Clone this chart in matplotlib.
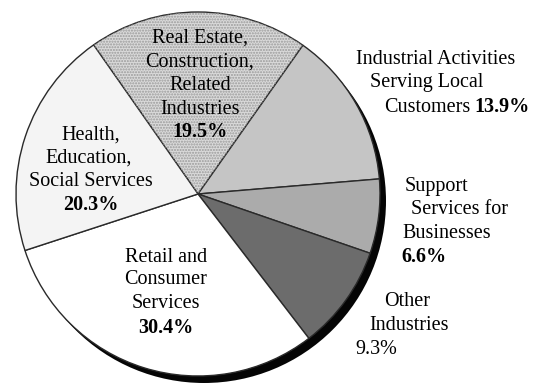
import matplotlib

matplotlib.use("Agg")

import matplotlib.pyplot as plt
from matplotlib.patches import Circle, Wedge

# sector shares, clockwise from the top-left
sectors = [
    "Real Estate, Construction, Related Industries",
    "Industrial Activities Serving Local Customers",
    "Support Services for Businesses",
    "Other Industries",
    "Retail and Consumer Services",
    "Health, Education, Social Services",
]
shares = [19.5, 13.9, 6.6, 9.3, 30.4, 20.3]
fills = ["#dadada", "#c5c5c5", "#ababab", "#6c6c6c", "#ffffff", "#f4f4f4"]

# label lines per sector; the share is drawn under / beside the last line
label_lines = [
    ["Real Estate,", "Construction,", "Related", "Industries"],
    ["Industrial Activities", "Serving Local", "Customers"],
    ["Support", "Services for", "Businesses"],
    ["Other", "Industries"],
    ["Retail and", "Consumer", "Services"],
    ["Health,", "Education,", "Social Services"],
]

W, H = 542, 385
CX, CY, R = 198, 191, 182

plt.rcParams["font.family"] = ["Liberation Serif", "DejaVu Serif"]

fig = plt.figure(figsize=(W / 100, H / 100), dpi=100)
ax = fig.add_axes([0, 0, 1, 1])

wedges, _ = ax.pie(
    shares,
    colors=fills,
    startangle=125,
    counterclock=False,
    center=(CX, CY),
    radius=R,
    wedgeprops=dict(edgecolor="#2a2a2a", linewidth=1.0),
)

# drop shadow behind the disc, offset down and to the right
ax.add_patch(Circle((CX + 6, CY - 7), R, facecolor="#050505", zorder=0.5))

# fine stipple on the real estate slice
re = wedges[0]
ax.add_patch(Wedge((CX, CY), R, re.theta1, re.theta2, facecolor="none",
                   edgecolor="#9a9a9a", linewidth=0, hatch="......", zorder=1.5))

# (x, y from the top, ha) for each line, in pixels
fs = 14.5
line_pos = [
    [(200, 38, "center"), (200, 62, "center"), (200, 86, "center"), (200, 109, "center")],
    [(356, 60, "left"), (370, 83, "left"), (384, 107, "left")],
    [(405, 187, "left"), (411, 210, "left"), (402, 234, "left")],
    [(384, 302, "left"), (369, 326, "left")],
    [(166, 257, "center"), (166, 280, "center"), (166, 304, "center")],
    [(91, 135, "center"), (89, 158, "center"), (91, 181, "center")],
]
pct_pos = [
    (200, 132, "center", "bold"),
    (474, 107, "left", "bold"),
    (401, 257, "left", "bold"),
    (355, 349, "left", "normal"),
    (166, 328, "center", "bold"),
    (91, 205, "center", "bold"),
]

for lines, pos, ppos, val in zip(label_lines, line_pos, pct_pos, shares):
    for txt, (x, y, ha) in zip(lines, pos):
        ax.text(x, H - y, txt, ha=ha, va="center", fontsize=fs, zorder=5)
    x, y, ha, wt = ppos
    ax.text(x, H - y, f"{val:.1f}%", ha=ha, va="center", fontsize=fs, fontweight=wt, zorder=5)

ax.set_xlim(0, W)
ax.set_ylim(0, H)
ax.set_aspect("equal")
ax.axis("off")

fig.savefig("out.png", dpi=100, facecolor="white")
